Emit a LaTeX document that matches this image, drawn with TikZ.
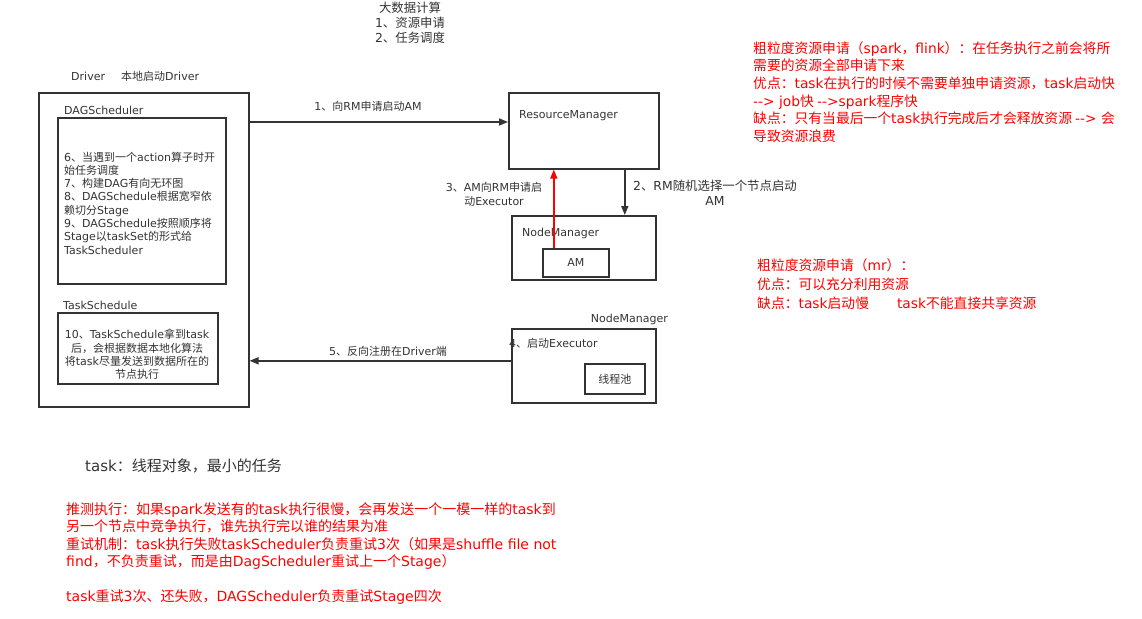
\documentclass[tikz,border=0pt]{standalone}
\usepackage{fontspec}
\setmainfont{DejaVu Sans}[Ligatures=TeXOff]
\newfontfamily\cjkfont{Noto Sans CJK SC}
\newfontfamily\latfont{DejaVu Sans}[Ligatures=TeXOff]
\XeTeXinterchartokenstate=1
\newXeTeXintercharclass\cjkcls
\makeatletter
\count@="3000
\loop \XeTeXcharclass\count@=\cjkcls \ifnum\count@<"303F \advance\count@ by 1 \repeat
\count@="4E00
\loop \XeTeXcharclass\count@=\cjkcls \ifnum\count@<"9FFF \advance\count@ by 1 \repeat
\count@="FF00
\loop \XeTeXcharclass\count@=\cjkcls \ifnum\count@<"FFEF \advance\count@ by 1 \repeat
\makeatother
\XeTeXinterchartoks 0 \cjkcls={\cjkfont}
\XeTeXinterchartoks 4095 \cjkcls={\cjkfont}
\XeTeXinterchartoks \cjkcls 0={\latfont}
\XeTeXinterchartoks 4095 0={\latfont}
\usetikzlibrary{arrows.meta}
\definecolor{ln}{HTML}{333333}
\definecolor{rd}{HTML}{FF0000}
\begin{document}
\begin{tikzpicture}[x=1pt,y=-1pt,
  box/.style={draw=ln, line width=1.6pt, inner sep=0pt, anchor=north west},
  conn/.style={color=ln, line width=1.6pt, -{Triangle[length=9pt,width=7pt]}},
  redconn/.style={color=red, line width=1.6pt, -{Triangle[length=9pt,width=7pt]}},
  txt/.style={inner sep=0pt, font=\fontsize{11}{13.3}\selectfont, text=ln},
  redtxt/.style={inner sep=0pt, font=\fontsize{13.8}{17.6}\selectfont, text=rd, align=left},
]
\useasboundingbox (0,0) rectangle (1142,618);

% title
\node[txt, align=center, font=\fontsize{12.4}{15}\selectfont] (title) at (410,23) {大数据计算\\1、资源申请\\2、任务调度};

% driver
\node[txt, anchor=west] (drvlbl) at (71,76) {Driver};
\node[txt, anchor=west] (drvlbl2) at (121,76) {本地启动Driver};
\node[box, minimum width=210pt, minimum height=314pt] (drv) at (38,92) {};
\node[txt, anchor=west] (daglbl) at (64,110) {DAGScheduler};
\node[box, minimum width=168pt, minimum height=166pt] (dag) at (57,117) {};
\node[txt, anchor=west, align=left] (dagtxt) at (64,203) {6、当遇到一个action算子时开\\始任务调度\\7、构建DAG有向无环图\\8、DAGSchedule根据宽窄依\\赖切分Stage\\9、DAGSchedule按照顺序将\\Stage以taskSet的形式给\\TaskScheduler};
\node[txt, anchor=west] (tsklbl) at (63,305) {TaskSchedule};
\node[box, minimum width=160pt, minimum height=71pt] (tsk) at (57,312) {};
\node[txt, align=center] (tsktxt) at (137,354.5) {10、TaskSchedule拿到task\\后，会根据数据本地化算法\\将task尽量发送到数据所在的\\节点执行};

% resource manager
\node[box, minimum width=150pt, minimum height=76pt] (rm) at (508,92) {};
\node[txt, anchor=west] (rmlbl) at (519,116) {ResourceManager};
\node[box, minimum width=144pt, minimum height=64pt] (nm1) at (511,215) {};
\node[txt, anchor=west] (nm1lbl) at (522,233) {NodeManager};
\node[box, minimum width=66pt, minimum height=28pt] (am) at (542,248) {};
\node[txt] (amlbl) at (am.center) {AM};

% node manager 2
\node[txt, anchor=east] (nm2lbl) at (668,319) {NodeManager};
\node[box, minimum width=144pt, minimum height=74pt] (nm2) at (511,328) {};
\node[txt, anchor=west] (exlbl) at (509,343) {4、启动Executor};
\node[box, minimum width=60pt, minimum height=30pt] (pool) at (584,363) {};
\node[txt] (poollbl) at (pool.center) {线程池};

% connectors
\draw[conn] ([yshift=-30pt]drv.north east) -- ([yshift=-30pt]rm.north west);
\node[txt] (l1) at (368,106) {1、向RM申请启动AM};
\draw[conn] ([xshift=41pt]rm.south) -- ([xshift=41pt]rm.south |- nm1.north);
\node[txt, align=center, font=\fontsize{12.4}{15}\selectfont] (l2) at (715,193) {2、RM随机选择一个节点启动\\AM};
\draw[redconn] ([xshift=-22pt]am.north) -- ([xshift=-22pt]am.north |- rm.south);
\node[txt, align=center, font=\fontsize{11}{14}\selectfont] (l3) at (494,194) {3、AM向RM申请启\\动Executor};
\coordinate (s5) at ([yshift=5pt]nm2.west);
\draw[conn] (s5) -- (drv.east |- s5);
\node[txt] (l5) at (388,351) {5、反向注册在Driver端};

% notes
\node[redtxt, anchor=west] (n1) at (753,92) {粗粒度资源申请（spark，flink）：在任务执行之前会将所\\需要的资源全部申请下来\\优点：task在执行的时候不需要单独申请资源，task启动快\\--> job快 -->spark程序快\\缺点：只有当最后一个task执行完成后才会释放资源 --> 会\\导致资源浪费};
\node[redtxt, anchor=west, font=\fontsize{13.8}{19}\selectfont] (n2) at (757,284) {粗粒度资源申请（mr）：\\优点：可以充分利用资源\\缺点：task启动慢\hspace{28pt}task不能直接共享资源};
\node[txt, anchor=west, font=\fontsize{15}{17}\selectfont] (n3) at (85,466) {task：线程对象，最小的任务};
\node[redtxt, anchor=west, font=\fontsize{14}{17.4}\selectfont] (n4) at (66,553.5) {推测执行：如果spark发送有的task执行很慢，会再发送一个一模一样的task到\\另一个节点中竞争执行，谁先执行完以谁的结果为准\\重试机制：task执行失败taskScheduler负责重试3次（如果是shuffle file not\\find，不负责重试，而是由DagScheduler重试上一个Stage）\\[17.4pt]task重试3次、还失败，DAGScheduler负责重试Stage四次};
\end{tikzpicture}
\end{document}
